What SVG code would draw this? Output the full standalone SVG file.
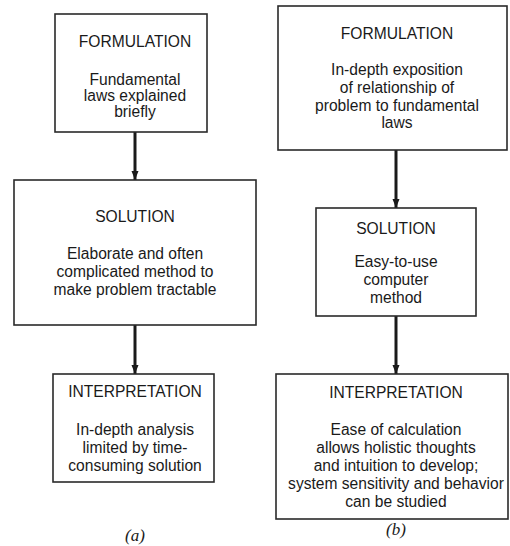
<svg xmlns="http://www.w3.org/2000/svg" width="510" height="546" viewBox="0 0 510 546">
<defs>
<marker id="ah" viewBox="0 0 9 8" refX="9" refY="4" markerWidth="9" markerHeight="8" markerUnits="userSpaceOnUse" orient="auto">
<path d="M0,0.5 L9,4 L0,7.5 Z" fill="#1a1a1a"/>
</marker>
<style>
.box{fill:#fff;stroke:#2a2a2a;stroke-width:1.6}
.t{font-family:"Liberation Sans",Arial,sans-serif;font-size:15.6px;fill:#1a1a1a;text-anchor:middle}
.cap{font-family:"Liberation Serif","Times New Roman",serif;font-style:italic;font-size:17px;fill:#1a1a1a;text-anchor:middle}
.arr{stroke:#1a1a1a;stroke-width:3;fill:none;marker-end:url(#ah)}
</style>
</defs>
<rect width="510" height="546" fill="#fff"/>
<g id="connectors">
<line class="arr" x1="135" y1="132" x2="135" y2="180"/>
<line class="arr" x1="135" y1="325" x2="135" y2="374"/>
<line class="arr" x1="396" y1="150" x2="396" y2="208"/>
<line class="arr" x1="396" y1="316" x2="396" y2="374"/>
</g>
<g id="a-formulation">
<rect class="box" x="55" y="14" width="152" height="118"/>
<text class="t" x="135" y="47">FORMULATION</text>
<text class="t" x="135" y="85">Fundamental</text>
<text class="t" x="135" y="101">laws explained</text>
<text class="t" x="135" y="117">briefly</text>
</g>
<g id="a-solution">
<rect class="box" x="14" y="180" width="242" height="145"/>
<text class="t" x="135" y="222">SOLUTION</text>
<text class="t" x="135" y="259">Elaborate and often</text>
<text class="t" x="135" y="277">complicated method to</text>
<text class="t" x="135" y="295">make problem tractable</text>
</g>
<g id="a-interpretation">
<rect class="box" x="53" y="374" width="161" height="108"/>
<text class="t" x="135" y="397">INTERPRETATION</text>
<text class="t" x="135" y="435">In-depth analysis</text>
<text class="t" x="135" y="453">limited by time-</text>
<text class="t" x="135" y="471">consuming solution</text>
</g>
<g id="b-formulation">
<rect class="box" x="278" y="6" width="229" height="144"/>
<text class="t" x="397" y="39">FORMULATION</text>
<text class="t" x="397" y="75">In-depth exposition</text>
<text class="t" x="397" y="93">of relationship of</text>
<text class="t" x="397" y="111">problem to fundamental</text>
<text class="t" x="397" y="128">laws</text>
</g>
<g id="b-solution">
<rect class="box" x="316" y="208" width="160" height="108"/>
<text class="t" x="396" y="234">SOLUTION</text>
<text class="t" x="396" y="267">Easy-to-use</text>
<text class="t" x="396" y="285">computer</text>
<text class="t" x="396" y="303">method</text>
</g>
<g id="b-interpretation">
<rect class="box" x="276" y="374" width="232" height="145"/>
<text class="t" x="396" y="398">INTERPRETATION</text>
<text class="t" x="396" y="435">Ease of calculation</text>
<text class="t" x="396" y="453">allows holistic thoughts</text>
<text class="t" x="396" y="471">and intuition to develop;</text>
<text class="t" x="396" y="489">system sensitivity and behavior</text>
<text class="t" x="396" y="507">can be studied</text>
</g>
<text class="cap" x="135" y="541">(a)</text>
<text class="cap" x="396" y="535">(b)</text>
</svg>
